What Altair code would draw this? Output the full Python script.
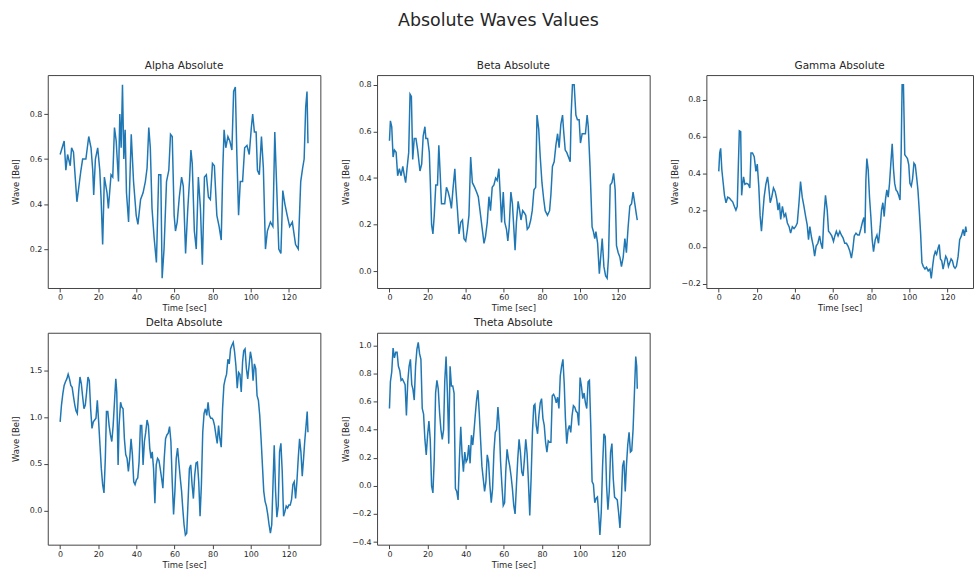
import altair as alt
import pandas as pd

# (time [sec], value [Bel])
alpha = [(0,.62),(2.1,.68),(3.0,.55),(3.9,.62),(5.3,.57),(6.0,.65),(7.0,.63),(8.8,.41),(10.9,.55),(11.8,.60),(13.5,.60),(15.0,.70),(16.2,.65),(17.1,.55),(17.6,.44),(18.5,.60),(19.7,.65),(20.8,.55),(21.5,.42),(22.3,.22),(23.2,.52),(24.6,.45),(25.3,.38),(26.7,.53),(27.6,.52),(28.5,.74),(29.4,.68),(30.6,.50),(31.3,.80),(32.0,.65),(32.7,.93),(33.4,.60),(34.1,.73),(34.8,.45),(35.9,.32),(37.3,.71),(38.5,.50),(39.9,.35),(40.8,.31),(42.2,.42),(43.5,.45),(44.7,.50),(45.6,.56),(46.5,.74),(47.3,.65),(48.2,.38),(49.3,.25),(50.5,.14),(51.7,.53),(52.8,.53),(53.5,.07),(54.5,.20),(55.8,.50),(57.0,.55),(57.9,.71),(58.8,.70),(59.8,.35),(60.5,.28),(61.4,.32),(62.5,.43),(63.7,.52),(64.6,.48),(65.8,.18),(66.9,.37),(67.9,.51),(68.6,.64),(69.3,.58),(70.4,.28),(71.4,.20),(72.5,.52),(73.6,.38),(74.6,.13),(75.7,.52),(76.7,.53),(77.8,.43),(78.8,.42),(79.9,.58),(80.9,.57),(82.2,.35),(83.4,.30),(84.5,.24),(85.3,.55),(86.0,.73),(86.9,.65),(88.0,.70),(89.0,.68),(90.1,.64),(91.0,.90),(91.9,.92),(92.7,.62),(93.6,.35),(94.5,.50),(95.7,.50),(96.8,.65),(98.0,.66),(99.2,.62),(100.3,.74),(101.0,.80),(101.9,.72),(102.8,.72),(103.5,.55),(104.5,.53),(105.6,.70),(106.6,.56),(107.7,.20),(108.7,.28),(110.3,.32),(111.6,.30),(112.6,.72),(113.5,.50),(114.7,.20),(115.8,.18),(116.8,.46),(117.9,.40),(119.1,.35),(120.4,.30),(121.8,.32),(123.5,.22),(124.9,.20),(126.2,.50),(127.2,.56),(128.0,.60),(128.8,.83),(129.5,.90),(130.0,.67)]

beta = [(0,.56),(0.5,.645),(1.2,.62),(1.9,.49),(2.6,.52),(3.5,.51),(4.3,.41),(5.2,.44),(6.1,.41),(7.0,.45),(7.8,.41),(8.5,.38),(9.2,.44),(10.1,.51),(10.8,.76),(11.5,.75),(12.2,.48),(13.0,.57),(13.9,.57),(14.8,.52),(16.0,.43),(16.9,.46),(17.7,.58),(18.6,.62),(19.1,.57),(20.0,.57),(20.9,.51),(21.4,.39),(22.1,.20),(22.8,.16),(23.5,.24),(24.3,.37),(25.2,.37),(25.9,.54),(26.6,.42),(27.3,.29),(28.2,.29),(29.0,.29),(29.9,.36),(30.8,.34),(31.7,.31),(32.5,.27),(33.4,.36),(34.3,.44),(34.8,.36),(35.7,.26),(36.5,.16),(37.4,.21),(38.3,.22),(39.1,.14),(40.0,.13),(40.9,.18),(41.7,.24),(42.6,.49),(43.5,.38),(44.7,.36),(45.7,.34),(46.6,.32),(47.5,.26),(48.7,.18),(49.6,.12),(50.4,.15),(51.3,.21),(52.2,.32),(53.0,.26),(53.9,.36),(54.8,.37),(55.7,.40),(56.5,.39),(57.4,.44),(58.3,.30),(58.8,.21),(59.7,.34),(60.5,.21),(61.4,.18),(62.1,.13),(62.8,.19),(63.7,.34),(64.5,.29),(65.2,.19),(65.9,.09),(66.6,.21),(67.5,.30),(68.3,.26),(69.0,.22),(69.9,.26),(70.8,.25),(71.5,.24),(72.3,.18),(73.2,.19),(74.1,.22),(74.9,.26),(75.8,.35),(76.7,.36),(77.4,.67),(78.3,.61),(79.1,.49),(80.0,.38),(80.9,.31),(81.7,.26),(82.9,.24),(84.0,.26),(84.7,.33),(85.5,.45),(86.4,.47),(87.3,.54),(88.2,.59),(89.0,.53),(89.9,.63),(90.8,.67),(91.3,.61),(92.2,.52),(93.0,.51),(93.9,.49),(94.8,.47),(95.3,.67),(96.0,.80),(96.9,.80),(97.8,.67),(98.6,.65),(99.5,.65),(100.2,.55),(101.1,.59),(101.9,.59),(102.8,.59),(103.7,.67),(104.3,.62),(105.2,.45),(106.3,.19),(107.0,.17),(107.7,.14),(108.3,.17),(109.2,.12),(110.1,-.01),(110.9,.07),(111.6,.14),(112.5,.02),(113.4,-.02),(114.2,-.03),(114.9,.06),(115.8,.37),(116.7,.38),(117.6,.42),(118.4,.35),(119.1,.11),(120.0,.08),(120.9,.06),(121.7,.02),(122.6,.06),(123.5,.14),(124.3,.08),(125.2,.19),(126.1,.28),(127.0,.29),(127.8,.34),(128.7,.29),(129.6,.24),(130.0,.22)]

gamma = [(0,.41),(0.5,.51),(1.0,.535),(1.6,.42),(2.3,.35),(3.0,.28),(3.8,.24),(4.7,.27),(5.6,.265),(6.4,.255),(7.3,.245),(8.2,.22),(9.0,.20),(9.7,.22),(10.3,.45),(10.8,.63),(11.5,.625),(12.0,.28),(12.5,.34),(13.0,.38),(13.7,.34),(14.6,.345),(15.5,.34),(16.3,.32),(16.9,.51),(17.7,.51),(18.6,.49),(19.5,.41),(20.2,.45),(21.0,.33),(21.7,.17),(22.4,.085),(23.1,.18),(23.8,.27),(24.7,.34),(25.6,.38),(26.1,.34),(27.0,.24),(27.8,.27),(28.7,.32),(29.6,.30),(30.4,.26),(31.1,.20),(31.8,.24),(32.5,.15),(33.4,.22),(34.3,.165),(35.1,.18),(36.0,.13),(36.9,.11),(37.7,.075),(38.6,.11),(39.5,.10),(40.3,.11),(41.2,.13),(42.1,.24),(42.9,.355),(43.8,.27),(44.7,.22),(45.6,.165),(46.4,.12),(47.1,.04),(47.8,.11),(48.7,.05),(49.6,.005),(50.3,-.05),(51.1,.005),(52.0,.02),(52.9,.06),(53.6,.02),(54.4,-.01),(55.1,.15),(56.0,.28),(56.9,.20),(57.6,.085),(58.4,.075),(59.3,.06),(60.2,.03),(60.9,.06),(61.7,.085),(62.6,.06),(63.5,.085),(64.3,.065),(65.2,.05),(66.1,.02),(67.0,.02),(67.8,.005),(68.7,-.02),(69.6,-.06),(70.3,-.015),(71.1,.06),(72.0,.075),(72.9,.065),(73.7,.065),(74.6,.10),(75.5,.14),(76.2,.16),(76.7,.075),(77.2,.365),(77.7,.48),(78.4,.42),(79.1,.27),(79.8,.165),(80.5,.04),(81.2,-.025),(82.1,.04),(83.0,.065),(83.8,.02),(84.7,.11),(85.4,.20),(86.1,.24),(86.8,.165),(87.5,.26),(88.2,.31),(88.9,.27),(89.6,.345),(90.3,.455),(91.0,.56),(91.7,.42),(92.3,.345),(93.0,.31),(93.7,.30),(94.4,.28),(95.1,.255),(95.7,.51),(96.2,.88),(96.9,.88),(97.6,.50),(98.3,.49),(99.0,.48),(99.7,.445),(100.3,.345),(101.0,.33),(101.7,.37),(102.4,.455),(103.1,.445),(103.8,.38),(104.5,.31),(105.2,.20),(105.9,.075),(106.6,-.085),(107.3,-.105),(108.2,-.12),(109.0,-.11),(109.9,-.13),(110.8,-.12),(111.5,-.17),(112.2,-.105),(112.9,-.05),(113.6,-.025),(114.3,-.04),(115.1,-.005),(115.7,.013),(116.3,-.065),(117.0,-.075),(117.7,-.12),(118.4,-.085),(119.1,-.05),(119.8,-.065),(120.5,-.105),(121.2,-.085),(121.9,-.065),(122.6,-.075),(123.3,-.105),(124.0,-.115),(124.7,-.105),(125.6,-.05),(126.4,.04),(127.3,.06),(128.2,.095),(128.9,.06),(129.6,.11),(130.0,.08)]

delta = [(0,.95),(0.7,1.13),(1.4,1.25),(2.1,1.34),(2.8,1.38),(3.5,1.41),(4.2,1.46),(4.9,1.41),(5.6,1.34),(6.3,1.32),(7.0,1.22),(7.7,1.13),(8.3,1.07),(9.0,1.04),(9.7,1.27),(10.4,1.43),(11.1,1.36),(11.8,1.22),(12.5,1.09),(13.2,1.13),(13.9,1.27),(14.6,1.43),(15.3,1.39),(16.0,1.09),(16.7,.88),(17.4,.95),(18.1,.97),(18.8,.99),(19.5,1.18),(20.2,.95),(20.9,.70),(21.6,.45),(22.3,.28),(23.0,.19),(23.7,.56),(24.3,1.06),(25.0,1.06),(25.7,.91),(26.4,.81),(27.1,.74),(27.8,.91),(28.5,1.16),(29.2,1.41),(29.7,1.27),(30.4,.49),(30.9,.91),(31.7,1.16),(32.3,1.11),(33.0,1.09),(33.7,.77),(34.4,.60),(35.1,.56),(35.8,.42),(36.5,.56),(37.2,.77),(37.9,.60),(38.6,.31),(39.3,.28),(40.0,.33),(40.7,.35),(41.4,.52),(42.1,.91),(42.8,.91),(43.5,.49),(44.2,.74),(44.9,.84),(45.6,.97),(46.3,.91),(47.0,.67),(47.7,.56),(48.3,.63),(49.0,.45),(49.7,.08),(50.4,.49),(51.1,.56),(51.8,.54),(52.5,.45),(53.2,.35),(53.9,.24),(54.6,.56),(55.3,.77),(56.0,.81),(56.7,.83),(57.4,.90),(58.1,.74),(58.8,.31),(59.5,-.04),(60.2,.21),(60.9,.56),(61.6,.67),(62.3,.51),(63.0,.35),(63.7,.21),(64.3,.03),(65.0,-.15),(65.7,-.26),(66.4,-.24),(67.1,.10),(67.8,.45),(68.5,.49),(69.2,.28),(69.9,.13),(70.6,.38),(71.3,.51),(72.0,.52),(72.7,.31),(73.4,-.06),(74.1,.28),(74.8,.84),(75.5,1.04),(76.2,1.09),(76.9,1.02),(77.6,1.16),(78.3,1.02),(79.0,.99),(79.7,.99),(80.3,.97),(81.0,.91),(81.7,.81),(82.4,.72),(83.1,.91),(83.8,.77),(84.5,.68),(85.2,1.09),(85.9,1.34),(86.6,1.41),(87.3,1.46),(88.0,1.62),(88.7,1.57),(89.4,1.73),(90.1,1.77),(90.8,1.80),(91.5,1.70),(92.2,1.55),(92.9,1.31),(93.6,1.48),(94.3,1.46),(95.0,1.27),(95.7,1.59),(96.3,1.71),(97.0,1.73),(97.7,1.52),(98.4,1.41),(99.1,1.55),(99.8,1.70),(100.5,1.62),(101.2,1.39),(101.9,1.57),(102.6,1.52),(103.3,1.23),(104.0,1.18),(104.7,1.02),(105.4,.77),(106.1,.49),(106.8,.21),(107.5,.10),(108.2,.05),(108.9,-.04),(109.6,-.15),(110.3,-.24),(111.0,-.15),(111.7,.31),(112.3,.70),(113.0,.21),(113.7,-.07),(114.4,.05),(115.1,.63),(115.8,.72),(116.5,.42),(117.2,-.06),(117.9,-.01),(118.6,.05),(119.3,.03),(120.0,.06),(120.7,.06),(121.4,.12),(122.1,.28),(122.8,.31),(123.5,.13),(124.2,.31),(124.9,.56),(125.6,.77),(126.3,.63),(127.0,.37),(127.7,.56),(128.3,.74),(129.0,.91),(129.6,1.06),(130.0,.84)]

theta = [(0,.55),(0.5,.74),(1.2,.81),(1.9,.98),(2.6,.91),(3.3,.95),(4.0,.95),(4.7,.85),(5.4,.82),(6.1,.75),(6.8,.76),(7.5,.74),(8.2,.72),(8.9,.50),(9.6,.74),(10.3,.85),(11.0,.90),(11.7,.72),(12.3,.69),(13.0,.61),(13.7,.85),(14.4,.97),(15.1,1.02),(15.8,.94),(16.5,.90),(17.2,.55),(17.9,.51),(18.6,.33),(19.3,.22),(20.0,.36),(20.7,.46),(21.4,.33),(22.1,.00),(22.8,-.05),(23.5,.19),(24.2,.66),(24.9,.75),(25.6,.69),(26.3,.52),(27.0,.40),(27.7,.33),(28.4,.40),(29.0,.74),(29.7,.92),(30.4,.66),(31.1,.30),(31.8,.85),(32.5,.71),(33.2,.71),(33.9,.66),(34.6,-.02),(35.3,-.04),(36.0,-.10),(36.7,.19),(37.4,.42),(38.1,.22),(38.8,.10),(39.5,.24),(40.2,.17),(40.9,.19),(41.6,.29),(42.3,.16),(43.0,.36),(43.7,.29),(44.3,.38),(45.0,.50),(45.7,.61),(46.4,.68),(47.1,.52),(47.8,.33),(48.5,.14),(49.2,.05),(49.9,-.04),(50.6,.03),(51.3,.22),(52.0,.17),(52.7,.00),(53.4,-.12),(54.1,-.02),(54.8,.24),(55.5,.38),(56.2,.40),(56.9,.56),(57.6,.43),(58.3,.17),(59.0,.00),(59.7,-.14),(60.4,-.12),(61.0,.10),(61.7,.26),(62.4,.19),(63.1,.14),(63.8,.07),(64.5,-.02),(65.2,-.14),(65.9,-.20),(66.6,.00),(67.3,.19),(68.0,.33),(68.7,.24),(69.4,.10),(70.1,.07),(70.8,.19),(71.5,.33),(72.2,.23),(72.9,.03),(73.6,-.21),(74.3,.05),(75.0,.38),(75.7,.57),(76.3,.58),(77.0,.43),(77.7,.37),(78.4,.50),(79.1,.59),(79.8,.62),(80.5,.48),(81.2,.43),(81.9,.31),(82.6,.24),(83.3,.32),(84.0,.31),(84.7,.31),(85.4,.64),(86.1,.65),(86.8,.63),(87.5,.59),(88.2,.63),(88.9,.55),(89.6,.78),(90.3,.85),(91.0,.90),(91.7,.72),(92.3,.48),(93.0,.30),(93.7,.40),(94.4,.43),(95.1,.38),(95.8,.50),(96.5,.57),(97.2,.56),(97.9,.53),(98.6,.52),(99.3,.43),(100.0,.77),(100.7,.71),(101.4,.62),(102.1,.66),(102.8,.59),(103.5,.55),(104.2,.74),(104.9,.75),(105.6,.43),(106.3,.03),(107.0,.01),(107.7,-.12),(108.4,-.09),(109.1,-.08),(109.7,-.19),(110.4,-.35),(111.1,-.19),(111.8,.14),(112.5,.37),(113.2,.35),(113.9,.00),(114.6,-.17),(115.3,-.04),(116.0,.24),(116.7,.30),(117.4,.05),(118.1,-.08),(118.8,-.09),(119.5,-.10),(120.2,-.19),(120.9,-.30),(121.6,-.12),(122.3,.14),(123.0,.18),(123.7,-.04),(124.3,.14),(125.0,.29),(125.7,.38),(126.4,.24),(127.1,.25),(127.8,.40),(128.5,.66),(129.2,.92),(129.7,.85),(130.0,.69)]

x_ticks = [0, 20, 40, 60, 80, 100, 120]
alpha_ticks = [0.2, 0.4, 0.6, 0.8]
beta_ticks = [0.0, 0.2, 0.4, 0.6, 0.8]
gamma_ticks = [-0.2, 0.0, 0.2, 0.4, 0.6, 0.8]
delta_ticks = [0.0, 0.5, 1.0, 1.5]
theta_ticks = [-0.4, -0.2, 0.0, 0.2, 0.4, 0.6, 0.8, 1.0]

FONT = "DejaVu Sans"
TXT = "#262626"
FRAME = "#444444"
LINE = "#1f77b4"

AXIS_STYLE = dict(
    grid=False,
    domain=False,
    ticks=True,
    tickColor=FRAME,
    tickSize=4,
    labelFont=FONT,
    labelFontSize=8,
    labelColor=TXT,
    titleFont=FONT,
    titleFontSize=8.5,
    titleFontWeight="normal",
    titleColor=TXT,
)


def panel(name, pairs, yticks, width, height, xmax=136.5):
    df = pd.DataFrame(pairs, columns=["t", "v"])
    lo, hi = df["v"].min(), df["v"].max()
    pad = 0.05 * (hi - lo)
    return (
        alt.Chart(
            df,
            title=alt.TitleParams(name, fontSize=10.5, offset=4, font=FONT,
                                  fontWeight="normal", color=TXT),
        )
        .mark_line(color=LINE, strokeWidth=1.5, clip=True)
        .encode(
            x=alt.X("t:Q",
                    scale=alt.Scale(domain=[-6.5, xmax], nice=False, zero=False),
                    axis=alt.Axis(values=x_ticks, title="Time [sec]", format="d",
                                  labelPadding=2, titlePadding=2, **AXIS_STYLE)),
            y=alt.Y("v:Q",
                    scale=alt.Scale(domain=[lo - pad, hi + pad], nice=False, zero=False),
                    axis=alt.Axis(values=yticks, title="Wave [Bel]", format=".1f",
                                  minExtent=24, maxExtent=24, titlePadding=3,
                                  **AXIS_STYLE)),
        )
        .properties(width=width, height=height,
                    view=alt.ViewBackground(stroke=FRAME, strokeWidth=1, fill="white"))
    )


top = alt.hconcat(
    panel("Alpha Absolute", alpha, alpha_ticks, 274, 214),
    panel("Beta Absolute", beta, beta_ticks, 274, 214),
    panel("Gamma Absolute", gamma, gamma_ticks, 268, 214, xmax=133.4),
    spacing=19,
)
bottom = alt.hconcat(
    panel("Delta Absolute", delta, delta_ticks, 274, 213),
    panel("Theta Absolute", theta, theta_ticks, 274, 213),
    spacing=19,
)

chart = (
    alt.vconcat(top, bottom, spacing=5)
    .properties(
        title=alt.TitleParams("Absolute Waves Values", fontSize=17.5, anchor="middle",
                              offset=31, dx=6, font=FONT, fontWeight="normal", color=TXT),
        padding={"left": 11, "top": 10, "right": 0, "bottom": 0},
        background="white",
    )
    .configure_view(stroke=FRAME, strokeWidth=1)
)

chart.save("out.html", embed_options={"renderer": "svg", "actions": False})
